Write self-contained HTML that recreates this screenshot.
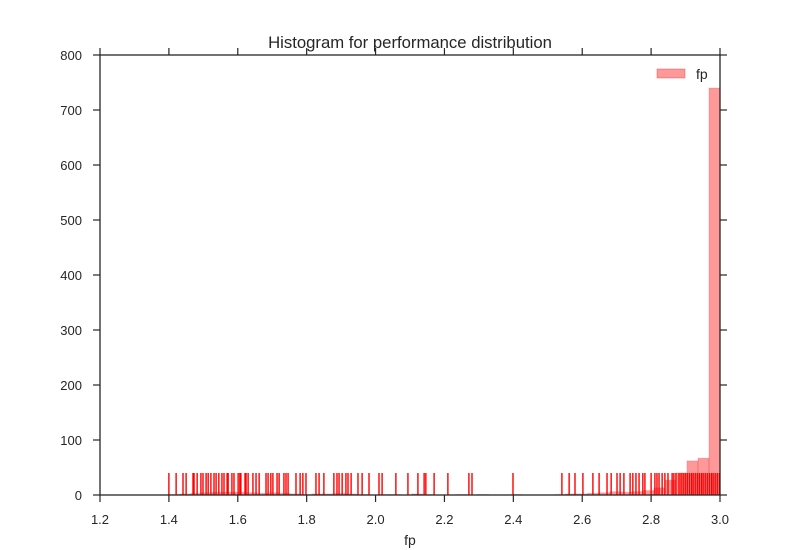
<!DOCTYPE html>
<html><head><meta charset="utf-8"><style>
body{margin:0;background:#fff;}
svg{display:block;font-family:"Liberation Sans",sans-serif;}
</style></head><body>
<svg id="chart" width="800" height="550">
<rect width="800" height="550" fill="#fff"/>
<g id="bars"></g>
<g id="rug"></g>
<g id="axes"></g>
<text x="410" y="48" text-anchor="middle" font-size="16.7" fill="#262626">Histogram for performance distribution</text>
<text x="410" y="545" text-anchor="middle" font-size="14" fill="#262626">fp</text>
<g>
<rect x="657" y="69" width="28" height="9" fill="rgba(255,0,0,0.4)" stroke="rgba(255,0,0,0.3)"/>
<text x="696" y="79" font-size="14" fill="#262626">fp</text>
</g>
</svg>
<script>
const binStart = 1.4;
const binWidth = 0.032;
const counts = [1,2,3,4,5,5,5,4,3,4,3,2,1,2,2,3,2,1,0,1,1,0,2,1,0,0,1,0,1,0,0,1,0,0,0,1,2,2,3,4,6,5,6,8,13,27,40,62,67,740];
const rugValues = [1.400,1.421,1.441,1.450,1.470,1.473,1.482,1.493,1.499,1.508,1.514,1.522,1.531,1.537,1.545,1.554,1.560,1.569,1.572,1.583,1.589,1.601,1.606,1.609,1.621,1.624,1.630,1.644,1.653,1.662,1.682,1.688,1.696,1.702,1.714,1.720,1.734,1.740,1.746,1.769,1.781,1.789,1.798,1.827,1.836,1.850,1.879,1.888,1.894,1.903,1.914,1.920,1.929,1.949,1.961,1.981,2.010,2.019,2.059,2.094,2.123,2.141,2.146,2.170,2.210,2.271,2.280,2.399,2.541,2.562,2.579,2.602,2.631,2.649,2.672,2.684,2.701,2.710,2.721,2.739,2.747,2.756,2.765,2.776,2.782,2.800,2.811,2.817,2.823,2.832,2.840,2.849,2.861,2.866,2.872,2.881,2.887,2.893,2.899,2.905,2.911,2.917,2.922,2.928,2.934,2.940,2.946,2.951,2.957,2.963,2.969,2.975,2.980,2.986,2.992,2.998];
const rugHeight = 40;
const xTicks = [1.2,1.4,1.6,1.8,2.0,2.2,2.4,2.6,2.8,3.0];
const yTicks = [0,100,200,300,400,500,600,700,800];

const NS='http://www.w3.org/2000/svg';
const L=100,R=720,T=55,B=495;
const xs=v=>L+(v-1.2)/(3.0-1.2)*(R-L);
const ys=v=>B-v/800*(B-T);
function mk(tag,attrs,parent){const e=document.createElementNS(NS,tag);for(const k in attrs)e.setAttribute(k,attrs[k]);parent.appendChild(e);return e;}
const bars=document.getElementById('bars'),rug=document.getElementById('rug'),axes=document.getElementById('axes');
counts.forEach((c,i)=>{
  const x0=xs(binStart+i*binWidth),x1=xs(binStart+(i+1)*binWidth);
  const r=mk('rect',{x:x0,y:ys(c),width:x1-x0,height:B-ys(c),fill:'rgba(255,0,0,0.4)',stroke:'rgba(200,0,0,0.15)','stroke-width':1},bars);
  
  
});
rugValues.forEach(v=>{
  const l=mk('line',{x1:xs(v),x2:xs(v),y1:B,y2:ys(rugHeight),stroke:'#ff0000','stroke-width':1.4},rug);
  
  
});
mk('rect',{x:L,y:T,width:R-L,height:B-T,fill:'none',stroke:'#262626','stroke-width':1.3},axes);
xTicks.forEach(v=>{
  const x=xs(v);
  mk('line',{x1:x,x2:x,y1:B,y2:B+7,stroke:'#262626','stroke-width':1.2},axes);
  mk('line',{x1:x,x2:x,y1:T,y2:T-7,stroke:'#262626','stroke-width':1.2},axes);
  const t=mk('text',{x:x,y:524,'text-anchor':'middle','font-size':13,fill:'#262626'},axes);
  t.textContent=v.toFixed(1);
  
  
});
yTicks.forEach(v=>{
  const y=ys(v);
  mk('line',{x1:L-7,x2:L,y1:y,y2:y,stroke:'#262626','stroke-width':1.2},axes);
  mk('line',{x1:R,x2:R+7,y1:y,y2:y,stroke:'#262626','stroke-width':1.2},axes);
  const t=mk('text',{x:82,y:y+5,'text-anchor':'end','font-size':13,fill:'#262626'},axes);
  t.textContent=v;
  
  
});
</script>
</body></html>
